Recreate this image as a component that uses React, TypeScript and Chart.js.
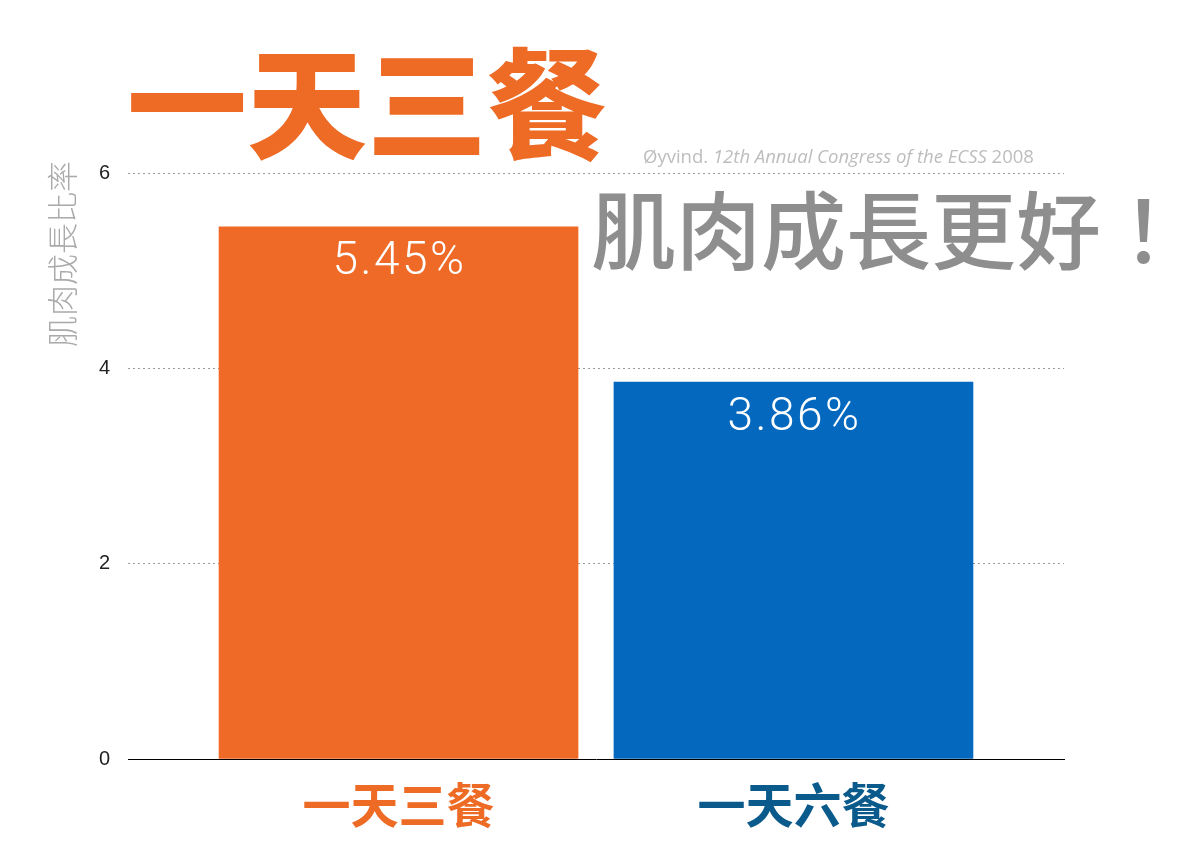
import React, { useEffect, useRef } from "react";
import { Chart, registerables } from "chart.js";

Chart.register(...registerables);

const categories = ["一天三餐", "一天六餐"];
const growthValues = [5.45, 3.86];
const valueLabels = ["5.45%", "3.86%"];
const yTickValues = [0, 2, 4, 6];
const barColors = ["#EE6A26", "#0468BE"];
const labelColors = ["#EE6B26", "#0B5A8C"];
const titleText = "一天三餐";
const subtitleText = "肌肉成長更好！";
const yAxisTitle = "肌肉成長比率";
const citationParts = [
  { text: "Øyvind. ", italic: false },
  { text: "12th Annual Congress of the ECSS", italic: true },
  { text: " 2008", italic: false },
];

const CJK = '"Noto Sans CJK TC", "Noto Sans CJK SC", sans-serif';

export default function App() {
  const ref = useRef<HTMLCanvasElement | null>(null);

  useEffect(() => {
    document.body.style.margin = "0";
    const canvas = ref.current;
    if (!canvas) return;

    const textPlugin = {
      id: "texts",
      afterDraw(chart: any) {
        const ctx = chart.ctx;
        ctx.save();
        // data labels
        const meta = chart.getDatasetMeta(0);
        meta.data.forEach((bar: any, i: number) => {
          ctx.fillStyle = "#ffffff";
          ctx.font = '300 46px Roboto, "Liberation Sans", sans-serif';
          ctx.textAlign = "center";
          ctx.textBaseline = "middle";
          try {
            (ctx as any).letterSpacing = "2.5px";
          } catch (e) {}
          ctx.fillText(valueLabels[i], bar.x + 1, bar.y + 36);
          try {
            (ctx as any).letterSpacing = "0px";
          } catch (e) {}
        });
        // main title
        ctx.textAlign = "left";
        ctx.textBaseline = "middle";
        ctx.fillStyle = "#EE6B26";
        ctx.font = "900 120px " + CJK;
        ctx.fillText(titleText, 127, 104);
        // subtitle
        ctx.fillStyle = "#8E8E8E";
        ctx.font = "500 85px " + CJK;
        ctx.fillText(subtitleText, 591, 231);
        // citation
        let x = 643;
        ctx.fillStyle = "#BDBDBD";
        citationParts.forEach((p) => {
          ctx.font = (p.italic ? "italic " : "") + '18.5px "Open Sans", sans-serif';
          ctx.fillText(p.text, x, 158);
          x += ctx.measureText(p.text).width;
        });
        // y axis title
        ctx.translate(62, 254);
        ctx.rotate(-Math.PI / 2);
        ctx.textAlign = "center";
        ctx.fillStyle = "#AAAAAA";
        ctx.font = "300 31px " + CJK;
        ctx.fillText(yAxisTitle, 0, 0);
        ctx.restore();
      },
    };

    const chart = new Chart(canvas, {
      type: "bar",
      data: {
        datasets: [
          {
            data: growthValues.map((v, i) => ({ x: i, y: v })),
            backgroundColor: barColors,
            barThickness: 359,
            borderWidth: 0,
          },
        ],
      },
      options: {
        responsive: false,
        animation: false,
        events: [],
        layout: { padding: { left: 0, right: 122, top: 173, bottom: 0 } },
        plugins: { legend: { display: false }, tooltip: { enabled: false } },
        scales: {
          x: {
            type: "linear",
            offset: false,
            min: -0.685,
            max: 1.685,
            afterBuildTicks: (s: any) => {
              s.ticks = categories.map((_, i) => ({ value: i }));
            },
            afterFit: (s: any) => {
              s.height = 101;
            },
            grid: { display: false, drawTicks: false, offset: false },
            border: { display: true, color: "#000000", width: 1 },
            ticks: {
              padding: 17,
              maxRotation: 0,
              autoSkip: false,
              font: { family: CJK, size: 48, weight: "bold" },
              color: (c: any) => labelColors[c.index] || "#000",
              callback: (v: any) => categories[v] ?? "",
            },
          },
          y: {
            min: 0,
            max: 6,
            afterBuildTicks: (s: any) => {
              s.ticks = yTickValues.map((v) => ({ value: v }));
            },
            afterFit: (s: any) => {
              s.width = 128;
            },
            grid: {
              drawTicks: false,
              color: "#9A9A9A",
              lineWidth: 1,
            },
            border: { display: false, dash: [2, 3] },
            ticks: {
              padding: 18,
              color: "#222222",
              font: { family: '"Liberation Sans", Arial, sans-serif', size: 20 },
            },
          },
        },
      },
      plugins: [textPlugin],
    } as any);

    return () => chart.destroy();
  }, []);

  return (
    <div style={{ position: "absolute", left: 0, top: 0, width: 1186, height: 860 }}>
      <canvas ref={ref} width={1186} height={860} style={{ display: "block" }} />
    </div>
  );
}
